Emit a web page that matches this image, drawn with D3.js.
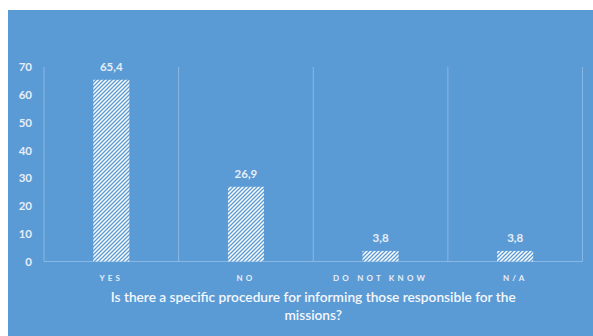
<!DOCTYPE html>
<html><head><meta charset="utf-8">
<script src="https://cdn.jsdelivr.net/npm/d3@7"></script>
<style>html,body{margin:0;padding:0;background:#fff;}svg{display:block;}</style>
</head><body>
<svg id="c" width="593" height="336"></svg>
<script>
const categories = ["YES", "NO", "DO NOT KNOW", "N/A"];
const values = [65.4, 26.9, 3.8, 3.8];
const valueLabels = ["65,4", "26,9", "3,8", "3,8"];
const yTicks = [0, 10, 20, 30, 40, 50, 60, 70];
const titleLines = ["Is there a specific procedure for informing those responsible for the", "missions?"];

const svg = d3.select("#c");
const bg = "#5b9bd5";
const font = "Lato, 'Open Sans', sans-serif";
const txt = "#e6eef8";
svg.append("rect").attr("x", 8).attr("y", 10).attr("width", 585).attr("height", 326).attr("fill", bg);

const defs = svg.append("defs");
const pat = defs.append("pattern").attr("id", "hatch").attr("patternUnits", "userSpaceOnUse")
  .attr("width", 4).attr("height", 4);
pat.append("rect").attr("width", 4).attr("height", 4).attr("fill", "#ffffff");
pat.append("path").attr("d", "M-1,1 l2,-2 M0,4 l4,-4 M3,5 l2,-2")
  .attr("stroke", bg).attr("stroke-width", 1.3);

const x = d3.scaleBand().domain(categories).range([44, 582.5]).paddingInner(0).paddingOuter(0);
const y = d3.scaleLinear().domain([0, 70]).range([261.5, 67]);
const bw = 36;

// vertical gridlines at category boundaries
const bounds = categories.map(c => x(c)).concat([x.range()[1]]);
svg.append("g").selectAll("line").data(bounds).join("line")
  .attr("x1", d => d).attr("x2", d => d).attr("y1", y(70)).attr("y2", y(0))
  .attr("stroke", "#8ab8e4").attr("stroke-width", 1);
svg.append("line").attr("x1", x.range()[0]).attr("x2", x.range()[1]).attr("y1", y(0)).attr("y2", y(0))
  .attr("stroke", "#8ab8e4").attr("stroke-width", 1.2);

// y axis labels
const yAxis = d3.axisLeft(y).tickValues(yTicks).tickSize(0).tickPadding(0);
const ga = svg.append("g").attr("transform", "translate(32,0)").call(yAxis);
ga.select(".domain").remove();
ga.selectAll("text").attr("fill", txt).attr("font-family", font).attr("font-size", 11.5).attr("font-weight", "bold");

// bars
svg.append("g").selectAll("rect").data(values).join("rect")
  .attr("x", (d, i) => x(categories[i]) + x.bandwidth() / 2 - bw / 2)
  .attr("width", bw)
  .attr("y", d => y(d)).attr("height", d => y(0) - y(d))
  .attr("fill", "url(#hatch)");

// value labels
svg.append("g").selectAll("text").data(values).join("text")
  .attr("x", (d, i) => x(categories[i]) + x.bandwidth() / 2)
  .attr("y", d => y(d) - 8.5)
  .attr("text-anchor", "middle").attr("fill", txt).attr("font-family", font)
  .attr("font-size", 11.5).attr("font-weight", "bold")
  .text((d, i) => valueLabels[i]);

// x category labels
const xAxis = d3.axisBottom(x).tickSize(0).tickPadding(0);
const gx = svg.append("g").attr("transform", "translate(0,278)").call(xAxis);
gx.select(".domain").remove();
gx.selectAll("text").attr("fill", txt).attr("font-family", font).attr("font-size", 8)
  .attr("font-weight", "bold").attr("letter-spacing", "3.2px").attr("dy", "0.35em");

// title
const cx = (x.range()[0] + x.range()[1]) / 2;
svg.append("g").selectAll("text").data(titleLines).join("text")
  .attr("x", cx).attr("y", (d, i) => 302 + i * 17.5)
  .attr("text-anchor", "middle").attr("fill", "#f4f7fc").attr("font-family", font)
  .attr("font-size", 13.7).attr("font-weight", 600).text(d => d);
</script>
</body></html>
